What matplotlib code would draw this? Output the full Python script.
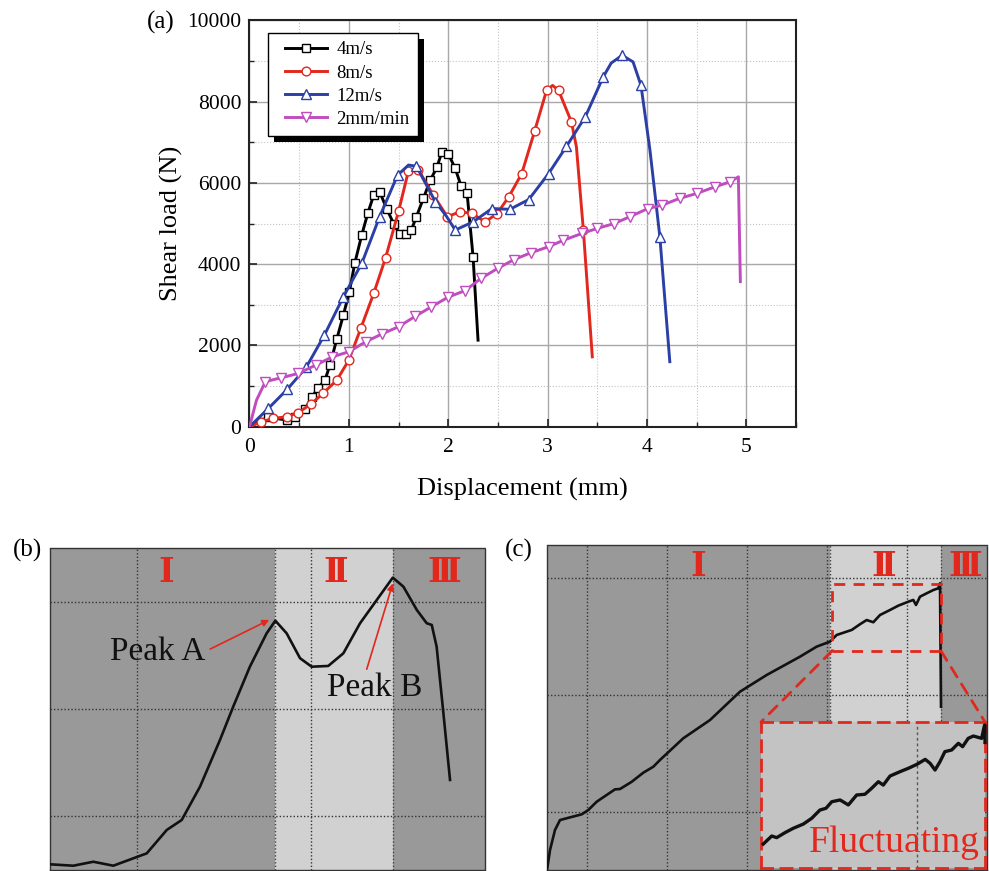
import matplotlib
matplotlib.use("Agg")
import matplotlib.pyplot as plt
from matplotlib.patches import Rectangle, ConnectionPatch
from matplotlib.ticker import MultipleLocator
from matplotlib.lines import Line2D
from matplotlib.legend_handler import HandlerLine2D

plt.rcParams['font.family'] = ['Liberation Serif', 'DejaVu Serif']
plt.rcParams['mathtext.fontset'] = 'stix'

# ---------------- Panel (a) data ----------------
disp_4 = [0.0, 0.19, 0.375, 0.46, 0.56, 0.63, 0.69, 0.76, 0.81, 0.88, 0.945, 1.005, 1.06, 1.13, 1.19,
          1.25, 1.31, 1.38, 1.45, 1.51, 1.58, 1.63, 1.68, 1.75, 1.82, 1.885, 1.935, 2.0, 2.07, 2.13,
          2.19, 2.25, 2.3]
load_4 = [40, 230, 165, 245, 425, 740, 945, 1150, 1520, 2170, 2750, 3320, 4030, 4720, 5250,
          5700, 5780, 5370, 5000, 4740, 4740, 4850, 5170, 5620, 6070, 6380, 6750, 6720, 6360, 5920,
          5740, 4180, 2130]
mark_4 = list(range(1, 32))

disp_8 = [0.0, 0.12, 0.24, 0.375, 0.49, 0.62, 0.74, 0.88, 1.0, 1.12, 1.25, 1.37, 1.5, 1.6, 1.7,
          1.85, 1.99, 2.12, 2.24, 2.37, 2.49, 2.61, 2.74, 2.87, 2.99, 3.05, 3.11, 3.24, 3.29, 3.36, 3.45]
load_8 = [0, 120, 205, 245, 345, 560, 820, 1150, 1640, 2420, 3280, 4160, 5300, 6300, 6320,
          5700, 5170, 5290, 5250, 5040, 5240, 5660, 6230, 7280, 8280, 8400, 8280, 7500, 6890, 4840, 1720]
mark_8 = [i for i in range(1, 30) if i not in (25, 28)]

disp_12 = [0.0, 0.19, 0.38, 0.57, 0.754, 0.945, 1.13, 1.31, 1.49, 1.6, 1.68, 1.87, 1.985, 2.07,
           2.25, 2.44, 2.62, 2.81, 3.01, 3.19, 3.38, 3.56, 3.64, 3.75, 3.86, 3.94, 4.03, 4.13, 4.23]
load_12 = [0, 450, 920, 1460, 2255, 3200, 4020, 5170, 6190, 6440, 6410, 5540, 5170, 4840,
           5040, 5370, 5350, 5590, 6230, 6900, 7630, 8610, 8950, 9140, 8980, 8400, 6810, 4670, 1600]
mark_12 = [i for i in range(1, 28) if i not in (9, 12, 22, 24, 26)]

disp_2 = [0.0, 0.07, 0.16, 0.32, 0.49, 0.67, 0.835, 1.0, 1.17, 1.33, 1.5, 1.67, 1.83, 2.0, 2.17,
          2.33, 2.5, 2.66, 2.83, 3.01, 3.16, 3.35, 3.5, 3.67, 3.83, 4.01, 4.15, 4.33, 4.5, 4.68,
          4.84, 4.92, 4.94]
load_2 = [0, 650, 1110, 1205, 1310, 1520, 1720, 1845, 2090, 2280, 2460, 2720, 2950, 3190, 3350,
          3650, 3900, 4110, 4280, 4430, 4590, 4760, 4880, 5000, 5170, 5370, 5450, 5620, 5740, 5900,
          6030, 6150, 3570]
mark_2 = list(range(2, 31))

series_labels = ['4m/s', '8m/s', '12m/s', '2mm/min']
x_ticks = [0, 1, 2, 3, 4, 5]
y_ticks = [0, 2000, 4000, 6000, 8000, 10000]

# ---------------- Panel (b) data ----------------
b_x = [0, 0.134, 0.249, 0.364, 0.479, 0.556, 0.671, 0.757, 0.862, 0.977, 1.053, 1.149, 1.245, 1.295,
       1.360, 1.437, 1.504, 1.599, 1.686, 1.782, 1.878, 1.970, 2.031, 2.108, 2.165, 2.194, 2.222,
       2.261, 2.299]
b_y = [0.053, 0.040, 0.077, 0.040, 0.109, 0.155, 0.373, 0.466, 0.776, 1.212, 1.522, 1.895, 2.205,
       2.323, 2.205, 1.973, 1.894, 1.901, 2.019, 2.299, 2.516, 2.724, 2.640, 2.423, 2.299, 2.283,
       2.081, 1.460, 0.839]
b_stage_edges = [0, 1.295, 1.970, 2.5]
b_stage_label_x = [0.667, 1.644, 2.266]
stage_names = ['Ⅰ', 'Ⅱ', 'Ⅲ']

# ---------------- Panel (c) data ----------------
c_x = [0, 0.0375, 0.1, 0.1625, 0.2875, 0.434, 0.516, 0.621, 0.746, 0.85, 0.9125, 1.059, 1.204,
       1.329, 1.4125, 1.704, 2.0375, 2.4125, 2.746, 3.1625, 3.371, 3.5375, 3.621, 3.809, 3.9125,
       3.996, 4.079, 4.1625, 4.2875, 4.391, 4.516, 4.579, 4.6125, 4.6625, 4.746, 4.829, 4.891,
       4.9125, 4.925]
c_y = [0, 0.171, 0.343, 0.428, 0.451, 0.477, 0.514, 0.585, 0.643, 0.691, 0.694, 0.756, 0.834,
       0.885, 0.943, 1.129, 1.285, 1.528, 1.671, 1.828, 1.914, 1.957, 2.014, 2.057, 2.106, 2.142,
       2.123, 2.185, 2.228, 2.265, 2.299, 2.314, 2.271, 2.342, 2.371, 2.399, 2.414, 2.457, 1.399]
c_stage_edges = [0, 3.54, 4.93, 5.5]
c_stage_label_x = [1.8875, 4.2125, 5.23]
zoom_box = [3.5625, 4.925, 1.877, 2.451]

ins_x = [0.010, 0.048, 0.070, 0.107, 0.144, 0.189, 0.226, 0.263, 0.290, 0.316, 0.353, 0.390,
         0.427, 0.464, 0.494, 0.524, 0.546, 0.576, 0.621, 0.658, 0.696, 0.733, 0.755, 0.777,
         0.799, 0.821, 0.851, 0.881, 0.900, 0.925, 0.948, 0.985, 0.998, 1.0, 1.0]
ins_y = [0.164, 0.219, 0.208, 0.242, 0.272, 0.301, 0.340, 0.397, 0.409, 0.454, 0.466, 0.432,
         0.500, 0.505, 0.546, 0.591, 0.568, 0.630, 0.660, 0.683, 0.710, 0.744, 0.717, 0.671,
         0.728, 0.797, 0.808, 0.854, 0.831, 0.888, 0.904, 0.888, 0.979, 0.979, 0.86]

RED = '#e2271d'
BLUE = '#2b3fa4'
MAG = '#c04cbf'
DARK = '#999999'
LIGHT = '#d1d1d1'
ROMAN_FONT = ['DejaVu Serif', 'Noto Sans CJK SC', 'DejaVu Sans']

W, H = 989, 871
fig = plt.figure(figsize=(W / 100, H / 100), dpi=100)


def fr(x0, y0, x1, y1):
    return [x0 / W, (H - y1) / H, (x1 - x0) / W, (y1 - y0) / H]


# ================= Panel (a) =================
ax = fig.add_axes(fr(249.5, 20.4, 796, 426.7))
ax.set_xlim(0, 5.5)
ax.set_ylim(0, 10000)
ax.xaxis.set_minor_locator(MultipleLocator(0.5))
ax.yaxis.set_minor_locator(MultipleLocator(1000))
ax.set_xticks(x_ticks)
ax.set_yticks(y_ticks)
ax.grid(which='major', color='#a8a8a8', lw=1.0, ls='-', zorder=0)
ax.grid(which='minor', color='#c4c4c4', lw=0.8, ls=':', zorder=0)
ax.set_axisbelow(True)
ax.tick_params(which='both', direction='in', top=False, right=False, labelsize=15.5, color='#222222')
ax.tick_params(which='major', length=6, width=1.2)
ax.tick_params(which='minor', length=3.5, width=1.0)
ax.tick_params(axis='x', pad=8)
ax.tick_params(axis='y', pad=6)
for s in ax.spines.values():
    s.set_linewidth(1.5)
    s.set_color('#222222')

specs = [
    (disp_4, load_4, mark_4, 'black', 's', 5.5),
    (disp_8, load_8, mark_8, RED, 'o', 6.3),
    (disp_12, load_12, mark_12, BLUE, '^', 7.0),
    (disp_2, load_2, mark_2, MAG, 'v', 7.0),
]
handles = []
for (xs, ys, mk, col, m, ms), lab in zip(specs, series_labels):
    ln, = ax.plot(xs, ys, color=col, lw=2.1, marker=m, ms=ms, mfc='white', mec=col, mew=1.0,
                  markevery=mk, label=lab, zorder=3)
    handles.append(ln)

ax.set_xlabel('Displacement (mm)', fontsize=19, labelpad=15)
ax.set_ylabel('Shear load (N)', fontsize=19, labelpad=3)

leg = ax.legend(handles=handles, loc='upper left', bbox_to_anchor=(0.0344, 0.968), borderaxespad=0,
                fontsize=13.5, frameon=True, fancybox=False, edgecolor='black', framealpha=1,
                handlelength=2.72, numpoints=1, labelspacing=0.32, borderpad=0.42, handletextpad=0.5,
                handler_map={Line2D: HandlerLine2D(xpad=0.45, numpoints=1)})
leg.get_frame().set_linewidth(1.0)
leg.set_zorder(6)

fig.text(147 / W, 1 - 22 / H, '(a)', fontsize=18, ha='left', va='center')

# ================= Panel (b) =================
axb = fig.add_axes(fr(50, 548, 485, 870))
axb.set_xlim(0, 2.5)
axb.set_ylim(0, 3)
cols = [DARK, LIGHT, DARK]
for i in range(3):
    axb.axvspan(b_stage_edges[i], b_stage_edges[i + 1], color=cols[i], lw=0, zorder=0)
for v in [0.5, 1.5]:
    axb.axvline(v, color='#333333', lw=1.0, ls=(0, (1, 1.5)), zorder=1)
for v in [0.5, 1.5, 2.5]:
    axb.axhline(v, color='#333333', lw=1.0, ls=(0, (1, 1.5)), zorder=1)
for v in b_stage_edges[1:3]:
    axb.axvline(v, color='#444444', lw=1.0, ls=(0, (1, 1.5)), zorder=1)
axb.plot(b_x, b_y, color='#111111', lw=1.9, zorder=3)
axb.set_xticks([])
axb.set_yticks([])
for s in axb.spines.values():
    s.set_linewidth(1.0)
    s.set_color('#333333')
    s.set_linestyle((0, (1, 1)))
for i, nm in enumerate(stage_names):
    axb.text(b_stage_label_x[i], 2.77, nm, color=RED, fontsize=24, ha='center', va='center',
             family=ROMAN_FONT, fontweight='bold')
axb.annotate('Peak A', xy=(1.26, 2.33), xytext=(0.345, 2.03), fontsize=24, ha='left', va='center',
             color='#111111',
             arrowprops=dict(arrowstyle='-|>', color=RED, lw=1.2, mutation_scale=10,
                             shrinkA=0, shrinkB=0, relpos=(1.05, 0.6)))
axb.annotate('Peak B', xy=(1.97, 2.67), xytext=(1.59, 1.70), fontsize=24, ha='left', va='center',
             color='#111111',
             arrowprops=dict(arrowstyle='-|>', color=RED, lw=1.2, mutation_scale=10,
                             shrinkA=0, shrinkB=0, relpos=(0.42, 1.1)))
fig.text(12.5 / W, 1 - 550 / H, '(b)', fontsize=18, ha='left', va='center')

# ================= Panel (c) =================
axc = fig.add_axes(fr(547, 545, 987, 870))
axc.set_xlim(0, 5.5)
axc.set_ylim(0, 325 / 116.7)
for i in range(3):
    axc.axvspan(c_stage_edges[i], c_stage_edges[i + 1], color=cols[i], lw=0, zorder=0)
for v in [0.5, 1.5, 2.5, 3.5, 4.5]:
    axc.axvline(v, color='#333333', lw=1.0, ls=(0, (1, 1.5)), zorder=1)
for v in [0.5, 1.5, 2.5]:
    axc.axhline(v, color='#333333', lw=1.0, ls=(0, (1, 1.5)), zorder=1)
for v in c_stage_edges[1:3]:
    axc.axvline(v, color='#444444', lw=1.0, ls=(0, (1, 1.5)), zorder=1)
axc.plot(c_x, c_y, color='#111111', lw=1.9, zorder=3)
axc.set_xticks([])
axc.set_yticks([])
for s in axc.spines.values():
    s.set_linewidth(1.0)
    s.set_color('#333333')
    s.set_linestyle((0, (1, 1)))
for i, nm in enumerate(stage_names):
    axc.text(c_stage_label_x[i], 2.60, nm, color=RED, fontsize=24, ha='center', va='center',
             family=ROMAN_FONT, fontweight='bold')
axc.add_patch(Rectangle((zoom_box[0], zoom_box[2]), zoom_box[1] - zoom_box[0], zoom_box[3] - zoom_box[2],
                        fill=False, edgecolor=RED, lw=2.0, ls=(0, (4, 3)), zorder=4))
fig.text(505 / W, 1 - 550 / H, '(c)', fontsize=18, ha='left', va='center')

# inset
axi = fig.add_axes(fr(761, 722, 985, 868))
axi.set_facecolor('#c3c3c3')
axi.set_xlim(0, 1)
axi.set_ylim(0, 1)
axi.axvline(0.695, color='#555555', lw=1.0, ls=(0, (2, 2)), zorder=1)
axi.plot(ins_x, ins_y, color='#111111', lw=2.4, zorder=3, clip_on=False)
axi.set_xticks([])
axi.set_yticks([])
for s in axi.spines.values():
    s.set_color(RED)
    s.set_linewidth(2.0)
    s.set_linestyle((0, (4, 3)))
axi.text(0.978, 0.11, 'Fluctuating', color=RED, fontsize=27, ha='right', va='baseline')

for (xa, ya, xb, yb) in [(zoom_box[0], zoom_box[2], 0, 1), (zoom_box[1], zoom_box[2], 1, 1)]:
    con = ConnectionPatch(xyA=(xa, ya), coordsA=axc.transData, xyB=(xb, yb), coordsB=axi.transAxes,
                          color=RED, lw=2.0, ls=(0, (4, 3)), zorder=5)
    fig.add_artist(con)

# legend shadow
fig.canvas.draw()
bb = leg.get_window_extent()
inv = ax.transAxes.inverted()
(x0, y0) = inv.transform((bb.x0 + 6, bb.y0 - 6))
(x1, y1) = inv.transform((bb.x1 + 6, bb.y1 - 6))
ax.add_patch(Rectangle((x0, y0), x1 - x0, y1 - y0, transform=ax.transAxes, facecolor='black',
                       edgecolor='none', zorder=5.5, clip_on=False))

fig.savefig('out.png', dpi=100)
